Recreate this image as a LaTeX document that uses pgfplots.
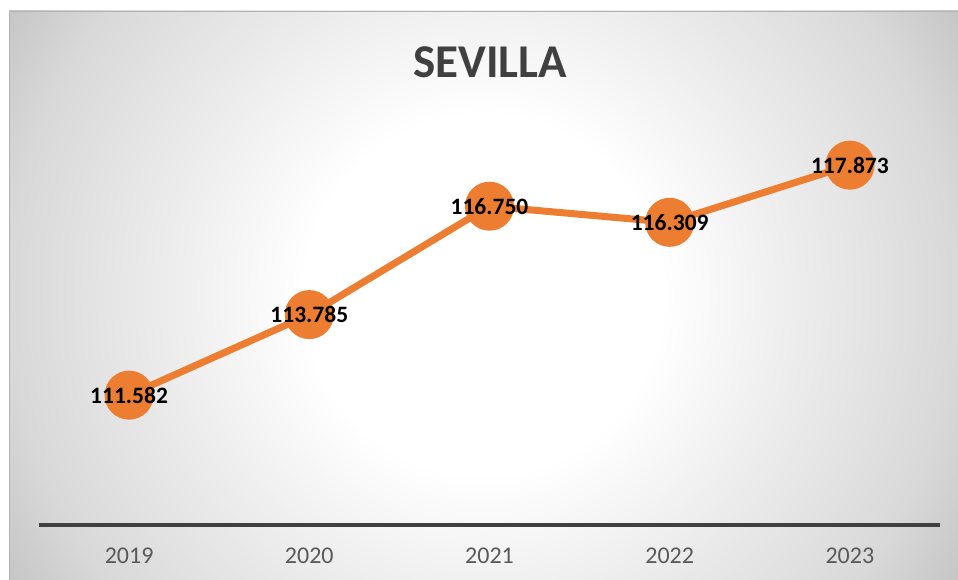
\documentclass[border=0pt]{standalone}
\usepackage{pgfplots}
\pgfplotsset{compat=1.18}
\usepackage{fontspec}
\setmainfont{Carlito}
\definecolor{serie}{HTML}{ED7D31}
\definecolor{ejes}{HTML}{404040}
\definecolor{textogris}{HTML}{595959}
\pgfdeclareradialshading{fondo}{\pgfpoint{0bp}{0bp}}{color(0bp)=(white); color(8bp)=(white); color(13bp)=(black!6); color(21bp)=(black!15); color(25bp)=(black!23); color(50bp)=(black!25)}

\begin{document}
\begin{tikzpicture}
\useasboundingbox (0pt,0pt) rectangle (958pt,580pt);
\begin{scope}
  \clip (9pt,0pt) rectangle (958pt,569pt);
  \shade[shading=fondo] (-77pt,-275pt) rectangle (1043pt,845pt);
\end{scope}
\draw[black!30, line width=1pt] (9.5pt,0pt) -- (9.5pt,568.5pt) -- (958pt,568.5pt);
\node[text=ejes, font=\fontsize{47}{56}\selectfont\bfseries] at (490pt,518pt) {SEVILLA};
\begin{axis}[
  at={(39pt,55pt)}, anchor=south west,
  scale only axis, width=901pt, height=437.6pt,
  xmin=-0.5, xmax=4.5, ymin=108.03, ymax=120,
  axis x line=bottom, axis y line=none,
  x axis line style={-, draw=ejes, line width=4pt},
  xtick={0,...,4}, xticklabels={2019,2020,2021,2022,2023},
  major tick length=0pt,
  xticklabel style={anchor=center, yshift=-31pt, text=textogris,
    font=\fontsize{24}{29}\selectfont},
  ytick=\empty,
  clip=false,
]
\addplot[serie, line width=7pt, mark=*, mark size=21pt,
  mark options={fill=serie, draw=none},
  nodes near coords, point meta=explicit symbolic,
  every node near coord/.append style={anchor=center, text=black,
    font=\fontsize{23.5}{28}\selectfont\bfseries}]
  coordinates {
    (0,111.582) [111.582]
    (1,113.785) [113.785]
    (2,116.750) [116.750]
    (3,116.309) [116.309]
    (4,117.873) [117.873]
  };
\end{axis}
\end{tikzpicture}
\end{document}
